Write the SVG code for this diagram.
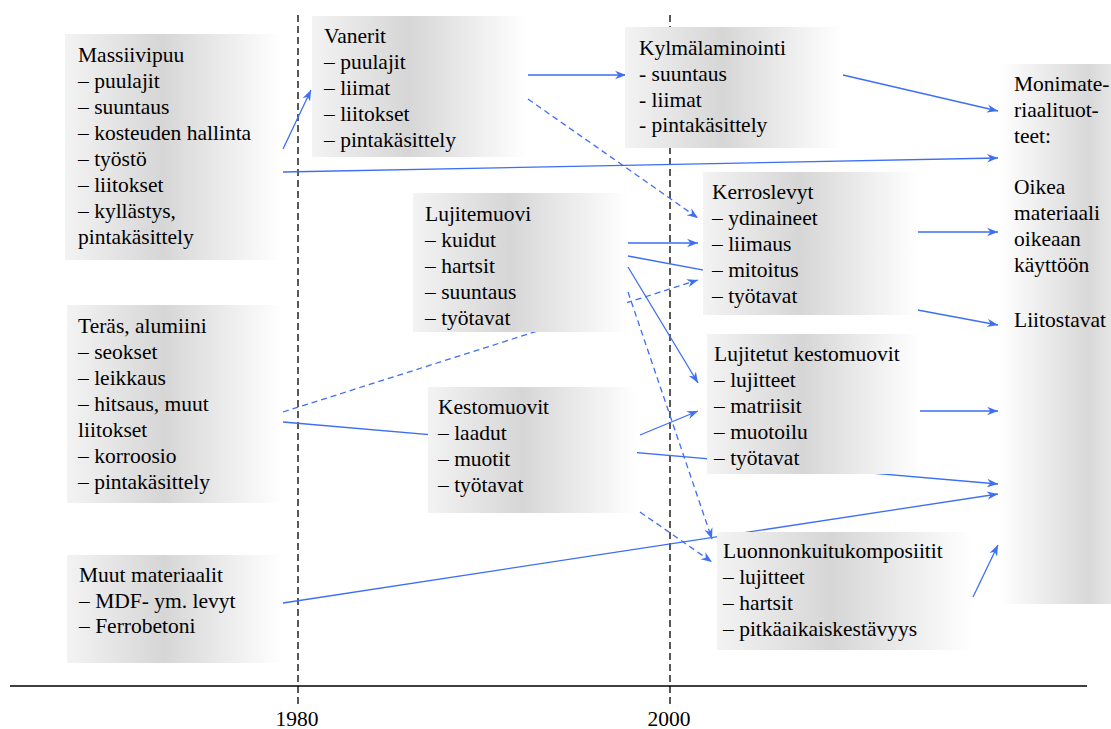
<svg xmlns="http://www.w3.org/2000/svg" width="1111" height="729" viewBox="0 0 1111 729">
<defs>
<linearGradient id="g" x1="0" y1="0" x2="1" y2="0">
<stop offset="0" stop-color="#f3f3f3"/>
<stop offset="0.45" stop-color="#d6d6d6"/>
<stop offset="1" stop-color="#ffffff"/>
</linearGradient>
<linearGradient id="gm" x1="0" y1="0" x2="1" y2="0">
<stop offset="0" stop-color="#ffffff"/>
<stop offset="0.8" stop-color="#d8d8d8"/>
<stop offset="1" stop-color="#e6e6e6"/>
</linearGradient>
<marker id="ah" markerWidth="12" markerHeight="10" viewBox="-11 -5 12 10" refX="0" refY="0" orient="auto" markerUnits="userSpaceOnUse">
<path d="M0,0 L-11,-4.2 L-7.5,0 L-11,4.2 Z" fill="#3d6ef5"/>
</marker>
<style>
.box{fill:url(#g)}
.t{font-family:"Liberation Serif","Times New Roman",serif;font-size:21.5px;fill:#000}
.c{stroke:#3d6ef5;stroke-width:1.3;fill:none;marker-end:url(#ah)}
.d{stroke-dasharray:6,4}
.v{stroke:#000;stroke-width:1.3;stroke-dasharray:7,4;fill:none}
</style>
</defs>
<rect width="1111" height="729" fill="#ffffff"/>
<g id="axis">
<line x1="298" y1="15" x2="298" y2="706" class="v"/>
<line x1="670" y1="15" x2="670" y2="706" class="v"/>
<line x1="10" y1="686" x2="1087" y2="686" stroke="#000" stroke-width="1.3"/>
<text x="297" y="726" class="t" text-anchor="middle">1980</text>
<text x="669" y="726" class="t" text-anchor="middle">2000</text>
</g>
<g id="connectors">
<line x1="283" y1="149" x2="311" y2="90" class="c"/>
<line x1="283" y1="172" x2="998" y2="158" class="c"/>
<line x1="528" y1="75" x2="626" y2="75" class="c"/>
<line x1="528" y1="99" x2="698" y2="218" class="c d"/>
<line x1="843" y1="75" x2="998" y2="111" class="c"/>
<line x1="628" y1="243" x2="698" y2="243" class="c"/>
<line x1="628" y1="256" x2="998" y2="325" class="c"/>
<line x1="628" y1="267" x2="698" y2="383" class="c"/>
<line x1="628" y1="292" x2="712" y2="539" class="c d"/>
<line x1="283" y1="412" x2="698" y2="280" class="c d"/>
<line x1="283" y1="422" x2="998" y2="484" class="c"/>
<line x1="640" y1="435" x2="698" y2="411" class="c"/>
<line x1="640" y1="512" x2="712" y2="562" class="c d"/>
<line x1="918" y1="232" x2="998" y2="232" class="c"/>
<line x1="918" y1="411" x2="998" y2="411" class="c"/>
<line x1="283" y1="603" x2="998" y2="494" class="c"/>
<line x1="973" y1="597" x2="998" y2="545" class="c"/>
</g>
<g id="massiivipuu">
<rect x="65" y="34" width="217" height="226" class="box"/>
<text class="t"><tspan x="78" y="62">Massiivipuu</tspan><tspan x="78" y="88">– puulajit</tspan><tspan x="78" y="114">– suuntaus</tspan><tspan x="78" y="140">– kosteuden hallinta</tspan><tspan x="78" y="166">– työstö</tspan><tspan x="78" y="192">– liitokset</tspan><tspan x="78" y="218">– kyllästys,</tspan><tspan x="78" y="244">pintakäsittely</tspan></text>
</g>
<g id="vanerit">
<rect x="312" y="16" width="214" height="141" class="box"/>
<text class="t"><tspan x="324" y="43">Vanerit</tspan><tspan x="324" y="69">– puulajit</tspan><tspan x="324" y="95">– liimat</tspan><tspan x="324" y="121">– liitokset</tspan><tspan x="324" y="147">– pintakäsittely</tspan></text>
</g>
<g id="kylmalaminointi">
<rect x="625" y="27" width="217" height="121" class="box"/>
<text class="t"><tspan x="639" y="55">Kylmälaminointi</tspan><tspan x="639" y="81">- suuntaus</tspan><tspan x="639" y="107">- liimat</tspan><tspan x="639" y="132">- pintakäsittely</tspan></text>
</g>
<g id="monimateriaalituotteet">
<rect x="1000" y="64" width="111" height="540" fill="url(#gm)"/>
<text class="t"><tspan x="1014" y="91">Monimate-</tspan><tspan x="1014" y="117">riaalituot-</tspan><tspan x="1014" y="143">teet:</tspan><tspan x="1014" y="194">Oikea</tspan><tspan x="1014" y="220">materiaali</tspan><tspan x="1014" y="246">oikeaan</tspan><tspan x="1014" y="272">käyttöön</tspan><tspan x="1014" y="327">Liitostavat</tspan></text>
</g>
<g id="lujitemuovi">
<rect x="413" y="193" width="214" height="139" class="box"/>
<text class="t"><tspan x="425" y="221">Lujitemuovi</tspan><tspan x="425" y="247">– kuidut</tspan><tspan x="425" y="273">– hartsit</tspan><tspan x="425" y="299">– suuntaus</tspan><tspan x="425" y="325">– työtavat</tspan></text>
</g>
<g id="kerroslevyt">
<rect x="703" y="172" width="215" height="143" class="box"/>
<text class="t"><tspan x="712" y="199">Kerroslevyt</tspan><tspan x="712" y="225">– ydinaineet</tspan><tspan x="712" y="251">– liimaus</tspan><tspan x="712" y="277">– mitoitus</tspan><tspan x="712" y="303">– työtavat</tspan></text>
</g>
<g id="teras-alumiini">
<rect x="67" y="305" width="215" height="198" class="box"/>
<text class="t"><tspan x="78" y="333">Teräs, alumiini</tspan><tspan x="78" y="359">– seokset</tspan><tspan x="78" y="385">– leikkaus</tspan><tspan x="78" y="411">– hitsaus, muut</tspan><tspan x="78" y="437">liitokset</tspan><tspan x="78" y="463">– korroosio</tspan><tspan x="78" y="489">– pintakäsittely</tspan></text>
</g>
<g id="kestomuovit">
<rect x="428" y="387" width="209" height="126" class="box"/>
<text class="t"><tspan x="438" y="414">Kestomuovit</tspan><tspan x="438" y="440">– laadut</tspan><tspan x="438" y="466">– muotit</tspan><tspan x="438" y="492">– työtavat</tspan></text>
</g>
<g id="lujitetut-kestomuovit">
<rect x="707" y="334" width="213" height="140" class="box"/>
<text class="t"><tspan x="714" y="361">Lujitetut kestomuovit</tspan><tspan x="714" y="387">– lujitteet</tspan><tspan x="714" y="413">– matriisit</tspan><tspan x="714" y="439">– muotoilu</tspan><tspan x="714" y="465">– työtavat</tspan></text>
</g>
<g id="luonnonkuitukomposiitit">
<rect x="717" y="532" width="255" height="118" class="box"/>
<text class="t"><tspan x="723" y="558">Luonnonkuitukomposiitit</tspan><tspan x="723" y="584">– lujitteet</tspan><tspan x="723" y="610">– hartsit</tspan><tspan x="723" y="636">– pitkäaikaiskestävyys</tspan></text>
</g>
<g id="muut-materiaalit">
<rect x="67" y="555" width="215" height="108" class="box"/>
<text class="t"><tspan x="79" y="582">Muut materiaalit</tspan><tspan x="79" y="608">– MDF- ym. levyt</tspan><tspan x="79" y="633">– Ferrobetoni</tspan></text>
</g>
</svg>
